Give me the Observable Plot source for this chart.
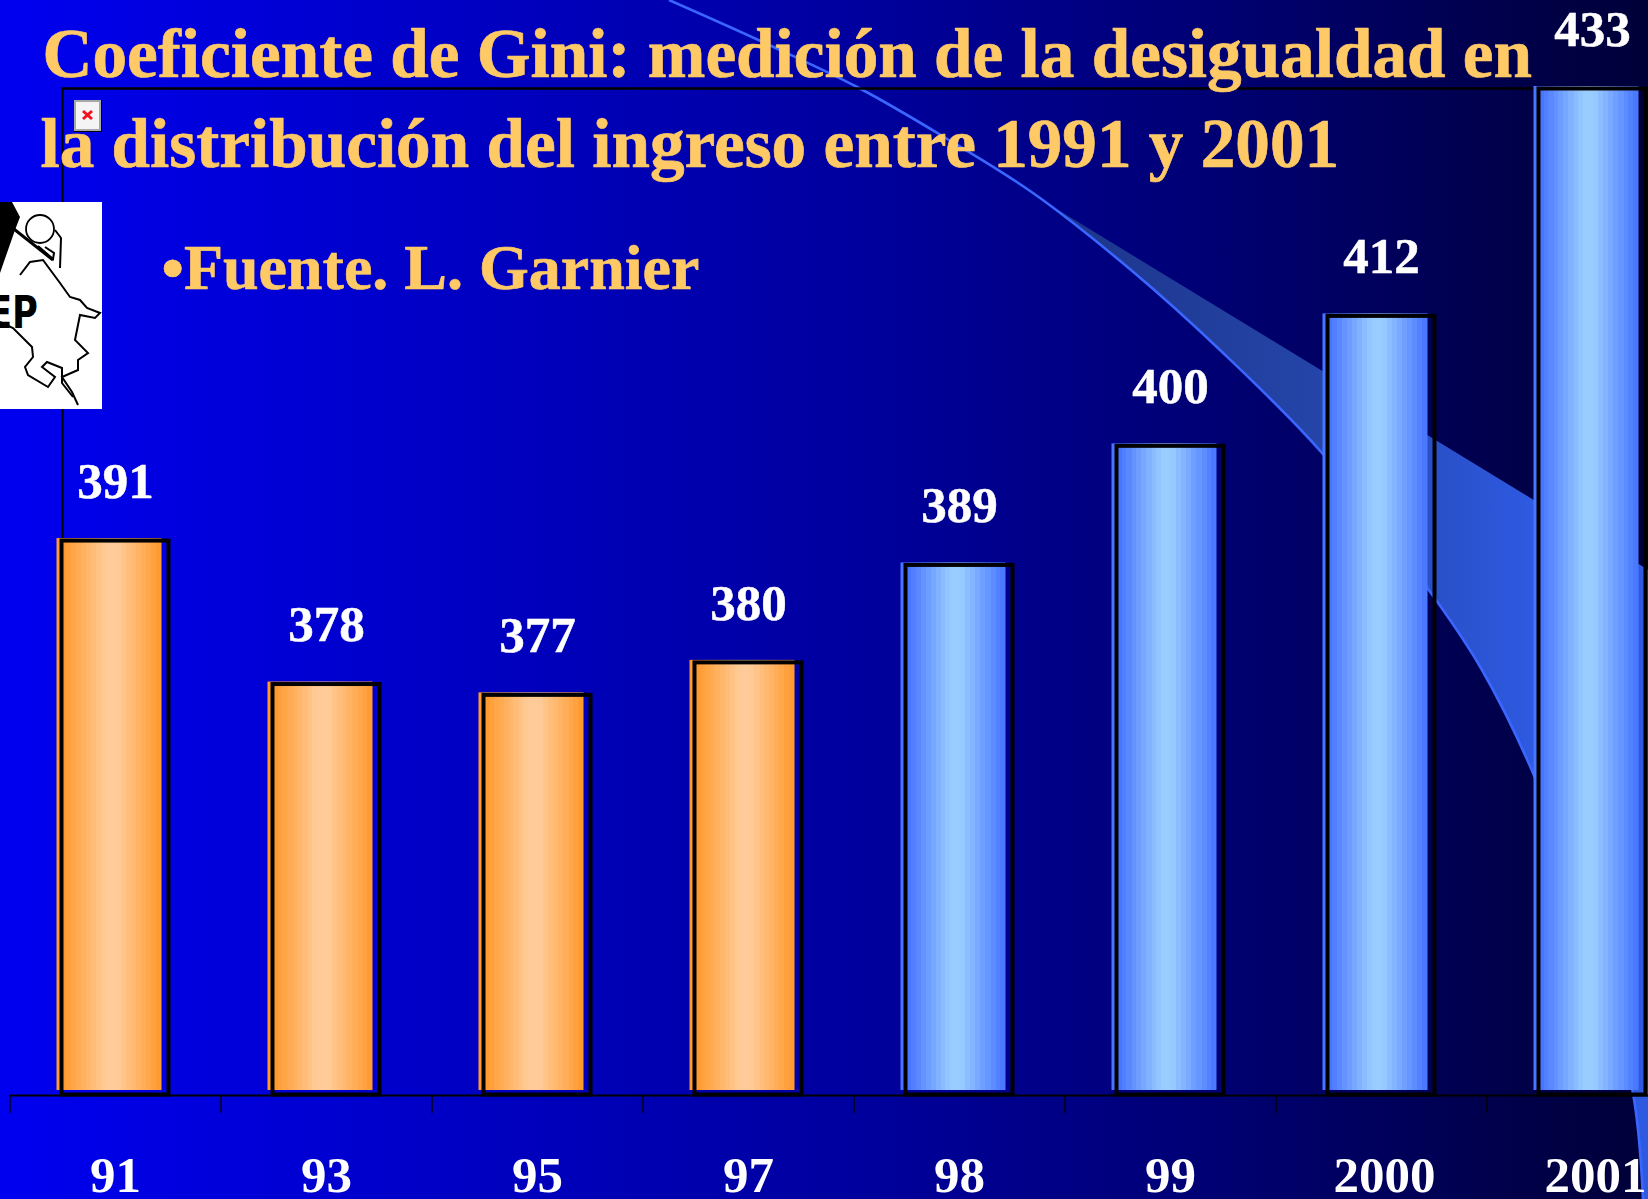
<!DOCTYPE html>
<html lang="es">
<head>
<meta charset="utf-8">
<title>Coeficiente de Gini</title>
<style>
html,body{margin:0;padding:0;width:1648px;height:1199px;overflow:hidden;background:#00007a}
svg{display:block}
</style>
<script src="https://cdn.jsdelivr.net/npm/d3@7"></script>
<script src="https://cdn.jsdelivr.net/npm/@observablehq/plot@0.6"></script>
</head>
<body>
<div id="chart"></div>
<script>
const years = ["91","93","95","97","98","99","2000","2001"];
const gini = [391.25,378,377,380,389,400,412,433];
const periods = ["a","a","a","a","b","b","b","b"];
const titleLines = ["Coeficiente de Gini: medición de la desigualdad en","la distribución del ingreso entre 1991 y 2001","•Fuente. L. Garnier"];

const rows = years.map((year,i)=>({year,value:gini[i],period:periods[i]}));
const W=1648,H=1199,serif='"Liberation Serif","Times New Roman",serif';
const step=(1697-9)/8;

function gradient(defs,id,edge,mid){
  const g=defs.append("linearGradient").attr("id",id).attr("x1",0).attr("x2",1).attr("y1",0).attr("y2",0);
  const n=21,c=d3.interpolateRgb(edge,mid);
  for(let i=0;i<n;i++){
    const u=(i+.5)/n,t=Math.min(1,Math.max(0,(1-Math.abs(2*u-1.06))*1.22-.1));
    const col=c(t);
    g.append("stop").attr("offset",i/n).attr("stop-color",col);
    g.append("stop").attr("offset",(i+1)/n).attr("stop-color",col);
  }
}
function backdrop(){
  const g=d3.create("svg:g");
  const defs=g.append("defs");
  gradient(defs,"gradOrange","#ff9a2e","#ffcc99");
  gradient(defs,"gradBlue","#4775ff","#99ccff");
  const bg=defs.append("linearGradient").attr("id","bgGrad").attr("x1",0).attr("x2",1).attr("y1",0).attr("y2",0);
  [[0,"#0000f0"],[.53,"#00009c"],[.75,"#000070"],[1,"#000038"]].forEach(([o,c])=>bg.append("stop").attr("offset",o).attr("stop-color",c));
  const rib=defs.append("linearGradient").attr("id","ribGrad").attr("gradientUnits","userSpaceOnUse")
    .attr("x1",1037).attr("x2",1535).attr("y1",0).attr("y2",0);
  rib.append("stop").attr("offset",0).attr("stop-color","#1c3488");
  rib.append("stop").attr("offset",.55).attr("stop-color","#2444a8");
  rib.append("stop").attr("offset",1).attr("stop-color","#2e5ae2");
  g.append("rect").attr("width",W).attr("height",H).attr("fill","url(#bgGrad)");
  const edge=[[669,0],[765,43],[859,88],[944,137],[1033,193],[1131,270],[1220,350],[1322,453],[1436,600],[1482,670],[1533,773],[1598,950],[1634,1099],[1643,1199]];
  const line=d3.line().curve(d3.curveCatmullRom);
  const body=edge.slice(4);
  g.append("path").attr("d",line(body)+`L1660,1199L1660,577L1037,197Z`).attr("fill","url(#ribGrad)");
  g.append("path").attr("d",line(edge)).attr("fill","none").attr("stroke","#3a66ff").attr("stroke-width",2.6);
  return g.node();
}
function overlay(){
  const g=d3.create("svg:g");
  // broken-image icon
  g.append("rect").attr("x",74).attr("y",100).attr("width",28).attr("height",32).attr("fill","#000");
  g.append("rect").attr("x",75).attr("y",101).attr("width",25).attr("height",29).attr("fill","#f4f4f4").attr("stroke","#a8a8a8").attr("stroke-width",2);
  g.append("path").attr("d","M83,111L92,119M92,111L83,119").attr("stroke","#f01020").attr("stroke-width",3).attr("fill","none");
  // logo
  g.append("rect").attr("x",0).attr("y",202).attr("width",102).attr("height",207).attr("fill","#fff");
  g.append("path").attr("d","M0,202L12,202L20,217L15,230L0,273Z").attr("fill","#000");
  g.append("path").attr("d","M0,218L53,260").attr("stroke","#000").attr("stroke-width",3).attr("fill","none");
  g.append("circle").attr("cx",40).attr("cy",229).attr("r",14).attr("fill","#fff").attr("stroke","#000").attr("stroke-width",1.8);
  const outlines=[
    [[45,247],[54,253],[53,259],[38,246]],
    [[55,230],[61,238],[60,268]],
    [[20,275],[30,262],[43,260],[60,283],[70,297],[80,300],[87,308],[100,313],[95,318],[80,315],[75,340],[88,353],[78,360],[78,370],[62,377],[72,392],[78,405]],
    [[0,322],[13,328],[32,347],[33,357],[25,367],[28,375],[48,387],[55,377],[42,367],[47,362],[62,368],[62,383],[73,397]]
  ];
  const l=d3.line();
  outlines.forEach(p=>g.append("path").attr("d",l(p)).attr("fill","none").attr("stroke","#000").attr("stroke-width",2));
  g.append("text").attr("x",-12).attr("y",328).attr("text-anchor","start").attr("font-family","DejaVu Sans").attr("font-weight",700).attr("font-size",44)
    .attr("textLength",50).attr("lengthAdjust","spacingAndGlyphs").attr("fill","#000").text("EP");
  return g.node();
}

const gold="#ffc966";
const titleStyle={frameAnchor:"top-left",textAnchor:"start",lineAnchor:"middle",fill:gold,stroke:gold,strokeWidth:.7,fontWeight:700};
const plot = Plot.plot({
  width:W,height:H,
  marginTop:88,marginBottom:104,marginLeft:0,marginRight:0,
  style:{fontFamily:serif,background:"transparent",overflow:"hidden"},
  x:{type:"band",domain:years,range:[9,1697],paddingInner:.49,paddingOuter:.245},
  y:{domain:[340,433],axis:null},
  marks:[
    backdrop,
    Plot.ruleY([433],{stroke:"#000",strokeWidth:2.6,insetLeft:61}),
    Plot.ruleX(years.slice(0,1),{x:d=>d,y1:340,y2:433,dx:-53,stroke:"#000",strokeWidth:2}),
    Plot.barY(rows.filter(d=>d.period==="a"),{x:"year",y1:340,y2:"value",fill:"url(#gradOrange)",inset:1.5,dx:-6,dy:-3.5}),
    Plot.barY(rows.filter(d=>d.period==="b"),{x:"year",y1:340,y2:"value",fill:"url(#gradBlue)",inset:1.5,dx:-6,dy:-3.5}),
    Plot.ruleY([340],{stroke:"#000",strokeWidth:2,insetLeft:9}),
    Plot.ruleX(years,{x:d=>d,y1:340,y2:338.35,dx:-step/2,stroke:"#000",strokeWidth:1.4}),
    Plot.barY(rows,{x:"year",y1:340,y2:"value",fill:"none",stroke:"#000",strokeWidth:4,inset:.5}),
    Plot.text(rows,{x:"year",y:"value",text:d=>String(Math.round(d.value)),dy:-59,fill:"#fff",stroke:"#fff",strokeWidth:.5,fontSize:51,fontWeight:700}),
    Plot.axisX(years.slice(0,6),{tickSize:0,tickPadding:60,fontSize:51,fontWeight:700,color:"#fff",fill:"#fff",stroke:"#fff",strokeWidth:.5,label:null}),
    Plot.axisX(years.slice(6),{tickSize:0,tickPadding:60,fontSize:51,fontWeight:700,color:"#fff",fill:"#fff",stroke:"#fff",strokeWidth:.5,label:null,dx:3}),
    Plot.text([titleLines[0]],{...titleStyle,dx:42,dy:-33.5,fontSize:69.2}),
    Plot.text([titleLines[1]],{...titleStyle,dx:40,dy:56.8,fontSize:69.2}),
    Plot.text([titleLines[2]],{...titleStyle,dx:161,dy:180.5,fontSize:64}),
    overlay
  ]
});
document.getElementById("chart").append(plot);
</script>
</body>
</html>
